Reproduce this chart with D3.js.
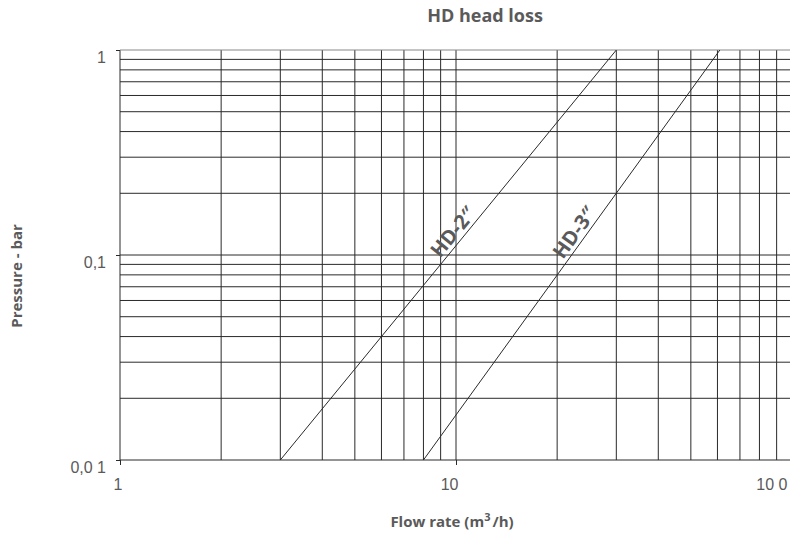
<!DOCTYPE html>
<html><head><meta charset="utf-8">
<script src="https://cdn.jsdelivr.net/npm/d3@7"></script>
<style>body{margin:0;background:#fff}svg{display:block}</style>
</head><body><svg id="c" width="790" height="537"></svg>
<script>
// ---- data ----
const title = "HD head loss";
const xTitleMain = "Flow rate (m";
const xTitleSup = "3";
const xTitleEnd = "/h)";
const yTitle = "Pressure - bar";
const xDomain = [1, 100];
const yDomain = [0.01, 1];
const xTickValues = [1, 10, 100];
const xTickLabels = ["1", "10", "10 0"];
const yTickValues = [1, 0.1, 0.01];
const yTickLabels = ["1", "0,1", "0,0 1"];
const seriesNames = ["HD-2\u2033", "HD-3\u2033"];
const hd2Flow = [3, 30];
const hd2Pressure = [0.01, 1];
const hd3Flow = [8, 61];
const hd3Pressure = [0.01, 1];
const labelPressure = [0.12, 0.12];

// ---- layout ----
const W = 790, H = 537;
const m = {left: 120, top: 50, bottom: 460};
const svg = d3.select("#c");
const x = d3.scaleLog().domain(xDomain).range([m.left, m.left + 672]);
const y = d3.scaleLog().domain(yDomain).range([m.bottom, m.top]);
const ink = "#2a2a2a", txt = "#5a5a5a";

const series = [
  {name: seriesNames[0], pts: hd2Flow.map((f, i) => [f, hd2Pressure[i]]), lp: labelPressure[0]},
  {name: seriesNames[1], pts: hd3Flow.map((f, i) => [f, hd3Pressure[i]]), lp: labelPressure[1]}
];

const g = svg.append("g");
// grid
g.selectAll("line.v").data(x.ticks()).join("line").attr("class", "v")
  .attr("x1", d => x(d)).attr("x2", d => x(d))
  .attr("y1", y(yDomain[1])).attr("y2", y(yDomain[0]))
  .attr("stroke", ink).attr("stroke-width", 1);
g.selectAll("line.h").data(y.ticks()).join("line").attr("class", "h")
  .attr("x1", m.left).attr("x2", W)
  .attr("y1", d => y(d)).attr("y2", d => y(d))
  .attr("stroke", d => d === 1 ? "#888" : ink).attr("stroke-width", 1);

// axes (ticks + labels)
const ya = d3.axisLeft(y).tickValues(yTickValues)
  .tickFormat((d, i) => yTickLabels[i]).tickSize(4).tickSizeOuter(0).tickPadding(10);
const yg = svg.append("g").attr("transform", `translate(${m.left},0)`).call(ya);
yg.select(".domain").remove();
yg.selectAll(".tick line").attr("stroke", ink);
yg.selectAll(".tick text").attr("fill", txt).attr("font-size", 16)
  .attr("font-family", "Liberation Sans, Arial, sans-serif").attr("dy", "0.8em");

const xa = d3.axisBottom(x).tickValues(xTickValues)
  .tickFormat((d, i) => xTickLabels[i]).tickSize(5).tickSizeOuter(0).tickPadding(14);
const xg = svg.append("g").attr("transform", `translate(0,${m.bottom})`).call(xa);
xg.select(".domain").remove();
xg.selectAll(".tick line").attr("stroke", ink);
xg.selectAll(".tick text").attr("fill", txt).attr("font-size", 16)
  .attr("font-family", "Liberation Sans, Arial, sans-serif")
  .attr("text-anchor", "end")
  .attr("x", d => Math.min(x(d) + 2, W - 3) - x(d));

// series lines
const line = d3.line().x(d => x(d[0])).y(d => y(d[1]));
svg.selectAll("path.s").data(series).join("path").attr("class", "s")
  .attr("d", d => line(d.pts)).attr("fill", "none").attr("stroke", ink).attr("stroke-width", 1);

// series labels along the lines
series.forEach(s => {
  const [p0, p1] = s.pts;
  const X0 = x(p0[0]), Y0 = y(p0[1]), X1 = x(p1[0]), Y1 = y(p1[1]);
  const t = (Math.log(s.lp) - Math.log(p0[1])) / (Math.log(p1[1]) - Math.log(p0[1]));
  const cx = X0 + t * (X1 - X0), cy = Y0 + t * (Y1 - Y0);
  const ang = Math.atan2(Y1 - Y0, X1 - X0) * 180 / Math.PI;
  svg.append("text").attr("transform", `translate(${cx},${cy}) rotate(${ang})`)
    .attr("text-anchor", "middle").attr("dy", -4)
    .attr("font-family", "Open Sans, sans-serif").attr("font-weight", 700)
    .attr("font-size", 20).attr("fill", txt).text(s.name);
});

// titles
svg.append("text").attr("x", 485).attr("y", 22).attr("text-anchor", "middle")
  .attr("font-family", "Open Sans, sans-serif").attr("font-weight", 700)
  .attr("font-size", 18).attr("fill", txt).text(title);

const xt = svg.append("text").attr("x", 452).attr("y", 527).attr("text-anchor", "middle")
  .attr("font-family", "Open Sans, sans-serif").attr("font-weight", 700)
  .attr("font-size", 15).attr("fill", txt);
xt.append("tspan").text(xTitleMain);
xt.append("tspan").attr("dy", -6).attr("font-size", 11).text(xTitleSup);
xt.append("tspan").attr("dy", 6).attr("dx", 2).text(xTitleEnd);

svg.append("text").attr("transform", `translate(22,276) rotate(-90)`).attr("text-anchor", "middle")
  .attr("font-family", "Open Sans, sans-serif").attr("font-weight", 700)
  .attr("font-size", 15).attr("fill", txt).text(yTitle);
</script></body></html>
